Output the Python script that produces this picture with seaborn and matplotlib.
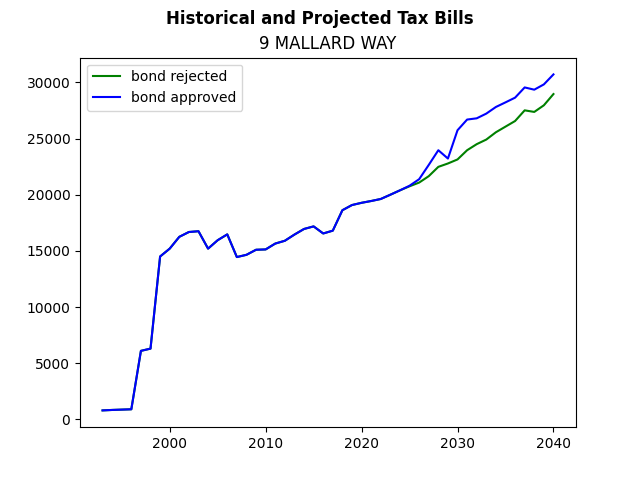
import matplotlib
matplotlib.use("Agg")
import matplotlib.pyplot as plt
import seaborn as sns
import numpy as np

years = list(range(1993, 2041))

historical = [800, 840, 870, 900, 6100, 6300, 14500, 15200, 16250, 16680, 16750,
              15200, 15950, 16470, 14450, 14650, 15100, 15130, 15650, 15900,
              16450, 16950, 17180, 16550, 16800, 18620, 19080, 19280, 19440,
              19620, 20000, 20390]

rejected_future = [20750, 21080, 21650, 22480, 22780, 23140, 23960, 24500, 24910,
                   25560, 26060, 26560, 27510, 27370, 27960, 28960]
approved_future = [20800, 21380, 22650, 23960, 23220, 25740, 26690, 26800, 27220,
                   27810, 28220, 28640, 29550, 29350, 29820, 30710]

bond_rejected = historical + rejected_future
bond_approved = historical + approved_future

fig, ax = plt.subplots(figsize=(6.4, 4.8), dpi=100)
sns.lineplot(x=years, y=bond_rejected, color="green", label="bond rejected", ax=ax)
sns.lineplot(x=years, y=bond_approved, color="blue", label="bond approved", ax=ax)
ax.legend(loc="upper left")
ax.set_title("9 MALLARD WAY")
fig.suptitle("Historical and Projected Tax Bills", fontweight="bold")
fig.savefig("out.png", dpi=100)
